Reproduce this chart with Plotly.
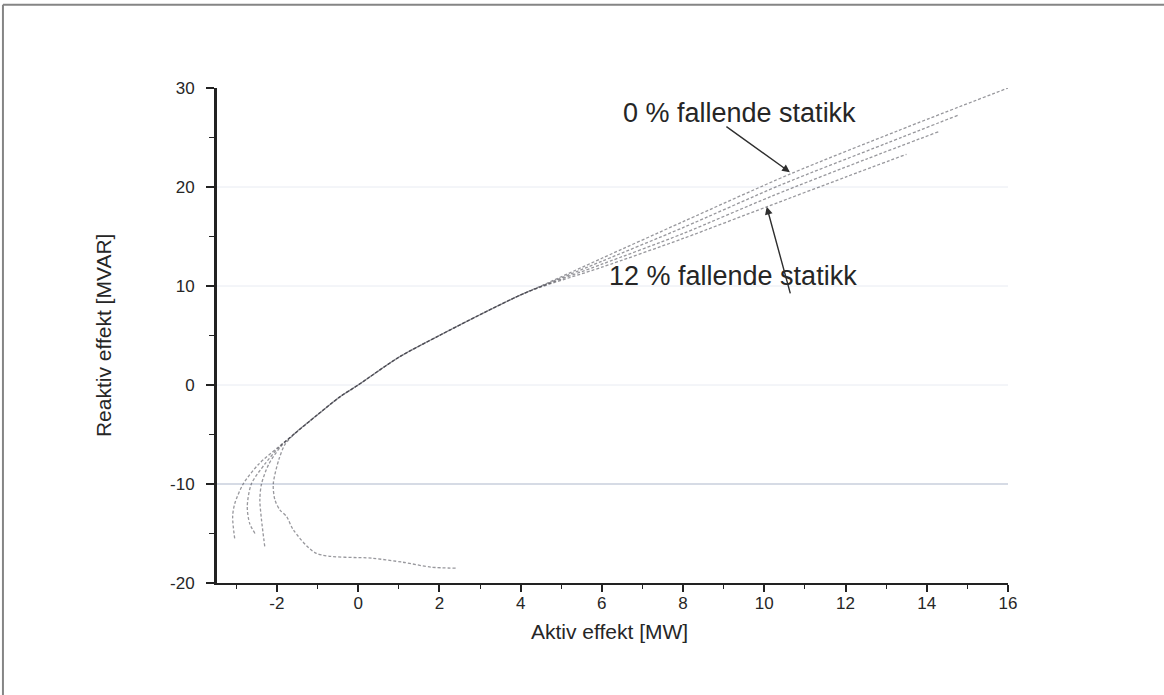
import plotly.graph_objects as go

# Aktiv effekt P [MW] and reaktiv effekt Q [MVAR] for four droop settings
p_0 = [2.4, 1.8, 1.1, 0.36, -1.03, -1.6, -1.76, -1.93, -2.05, -2.09, -1.95, -1.8, -1.56,
       -1.0, -0.45, 0.0, 1.0, 2.0, 3.0, 4.0, 4.5, 6.0, 8.0, 10.63, 13.3, 16.0]
q_0 = [-18.5, -18.4, -17.9, -17.5, -17.0, -14.6, -13.3, -12.6, -11.6, -10.0, -7.5, -6.0, -4.9,
       -3.0, -1.2, 0.0, 2.8, 5.0, 7.1, 9.1, 10.0, 12.8, 16.5, 21.3, 25.7, 30.0]

p_4 = [-2.30, -2.38, -2.42, -2.38, -2.2, -1.9, -1.56,
       -1.0, -0.45, 0.0, 1.0, 2.0, 3.0, 4.0, 4.5, 6.0, 8.0, 10.4, 13.0, 14.8]
q_4 = [-16.3, -13.6, -11.6, -10.0, -8.0, -6.2, -4.9,
       -3.0, -1.2, 0.0, 2.8, 5.0, 7.1, 9.1, 9.97, 12.5, 15.9, 20.2, 24.4, 27.3]

p_8 = [-2.54, -2.67, -2.73, -2.63, -2.3, -1.95, -1.56,
       -1.0, -0.45, 0.0, 1.0, 2.0, 3.0, 4.0, 4.5, 6.0, 8.0, 10.2, 12.5, 14.3]
q_8 = [-15.0, -14.0, -12.3, -10.0, -8.0, -6.3, -4.9,
       -3.0, -1.2, 0.0, 2.8, 5.0, 7.1, 9.1, 9.94, 12.2, 15.3, 19.1, 22.8, 25.6]

p_12 = [-3.04, -3.09, -3.04, -2.83, -2.45, -2.0, -1.56,
        -1.0, -0.45, 0.0, 1.0, 2.0, 3.0, 4.0, 4.5, 6.0, 8.0, 10.06, 12.0, 13.5]
q_12 = [-15.5, -13.3, -12.0, -10.0, -8.0, -6.4, -4.9,
        -3.0, -1.2, 0.0, 2.8, 5.0, 7.1, 9.1, 9.9, 11.9, 14.8, 18.0, 21.0, 23.3]

series = [
    ("0 %", p_0, q_0),
    ("4 %", p_4, q_4),
    ("8 %", p_8, q_8),
    ("12 %", p_12, q_12),
]

x_ticks = [-2, 0, 2, 4, 6, 8, 10, 12, 14, 16]
x_labels = ["-2", "0", "2", "4", "6", "8", "10", "12", "14", "16"]
y_ticks = [-20, -10, 0, 10, 20, 30]
y_labels = ["-20", "-10", "0", "10", "20", "30"]
x_range = [-3.5, 16]
y_range = [-20, 30]
grid_levels = [20, 10, 0]
ref_level = -10

FONT = "Liberation Sans, Arial, sans-serif"
INK = "#262626"
AXIS = "#222222"

fig = go.Figure()

for name, p, q in series:
    fig.add_trace(go.Scatter(
        x=p, y=q, mode="lines", name=name,
        line=dict(color="rgba(50,50,60,0.5)", width=1.3, dash="3px,2px", shape="spline", smoothing=0.8),
        showlegend=False, hoverinfo="x+y",
    ))

shapes = []
for lvl in grid_levels:
    shapes.append(dict(type="line", xref="x", yref="y", x0=x_range[0], x1=x_range[1], y0=lvl, y1=lvl,
                       line=dict(color="#e8ebf2", width=1), layer="below"))
shapes.append(dict(type="line", xref="x", yref="y", x0=x_range[0], x1=x_range[1], y0=ref_level, y1=ref_level,
                   line=dict(color="#aeb7cb", width=1.2), layer="below"))
# left axis spine
shapes.append(dict(type="line", xref="paper", yref="paper", x0=0, x1=0, y0=0, y1=1,
                   line=dict(color=AXIS, width=2)))
# outer frame of the figure (left and top edges)
shapes.append(dict(type="line", xref="paper", yref="paper", x0=-0.269, x1=-0.269, y0=-0.23, y1=1.168,
                   line=dict(color="#858585", width=2)))
shapes.append(dict(type="line", xref="paper", yref="paper", x0=-0.269, x1=1.22, y0=1.168, y1=1.168,
                   line=dict(color="#858585", width=2)))

annotations = [
    dict(text="0 % fallende statikk", x=9.40, y=27.5, xref="x", yref="y", showarrow=False,
         font=dict(family=FONT, size=27, color=INK)),
    dict(text="12 % fallende statikk", x=9.22, y=11.0, xref="x", yref="y", showarrow=False,
         font=dict(family=FONT, size=27, color=INK)),
    dict(text="", x=10.63, y=21.5, ax=9.03, ay=26.2, xref="x", yref="y", axref="x", ayref="y",
         showarrow=True, arrowhead=2, arrowsize=1.1, arrowwidth=1.4, arrowcolor="#2e2e2e"),
    dict(text="", x=10.06, y=18.0, ax=10.65, ay=9.1, xref="x", yref="y", axref="x", ayref="y",
         showarrow=True, arrowhead=2, arrowsize=1.1, arrowwidth=1.4, arrowcolor="#2e2e2e"),
    dict(text="Aktiv effekt [MW]", x=0.497, y=-0.125, xref="paper", yref="paper", showarrow=False,
         font=dict(family=FONT, size=21, color=INK)),
    dict(text="Reaktiv effekt [MVAR]", x=-0.159, y=0.50, xref="paper", yref="paper", showarrow=False,
         textangle=-90, font=dict(family=FONT, size=21, color=INK)),
]

fig.update_layout(
    width=1164, height=695,
    margin=dict(l=216, r=156, t=88, b=112),
    paper_bgcolor="white", plot_bgcolor="white",
    shapes=shapes, annotations=annotations,
    font=dict(family=FONT, size=17, color=INK),
)
fig.update_xaxes(
    range=x_range, tickvals=x_ticks, ticktext=x_labels, showgrid=False, zeroline=False,
    showline=True, linecolor=AXIS, linewidth=2,
    ticks="outside", ticklen=7, tickwidth=1.8, tickcolor=AXIS, ticklabelstandoff=-3,
    minor=dict(dtick=1, ticks="outside", ticklen=4, tickwidth=1.4, tickcolor=AXIS, showgrid=False),
    tickfont=dict(family=FONT, size=17, color=INK),
)
fig.update_yaxes(
    range=y_range, tickvals=y_ticks, ticktext=y_labels, showgrid=False, zeroline=False,
    showline=True, linecolor=AXIS, linewidth=2,
    ticks="outside", ticklen=8, tickwidth=1.8, tickcolor=AXIS, ticklabelstandoff=8,
    minor=dict(dtick=5, ticks="outside", ticklen=5, tickwidth=1.4, tickcolor=AXIS, showgrid=False),
    tickfont=dict(family=FONT, size=17, color=INK),
)

fig.write_html("out.html")
